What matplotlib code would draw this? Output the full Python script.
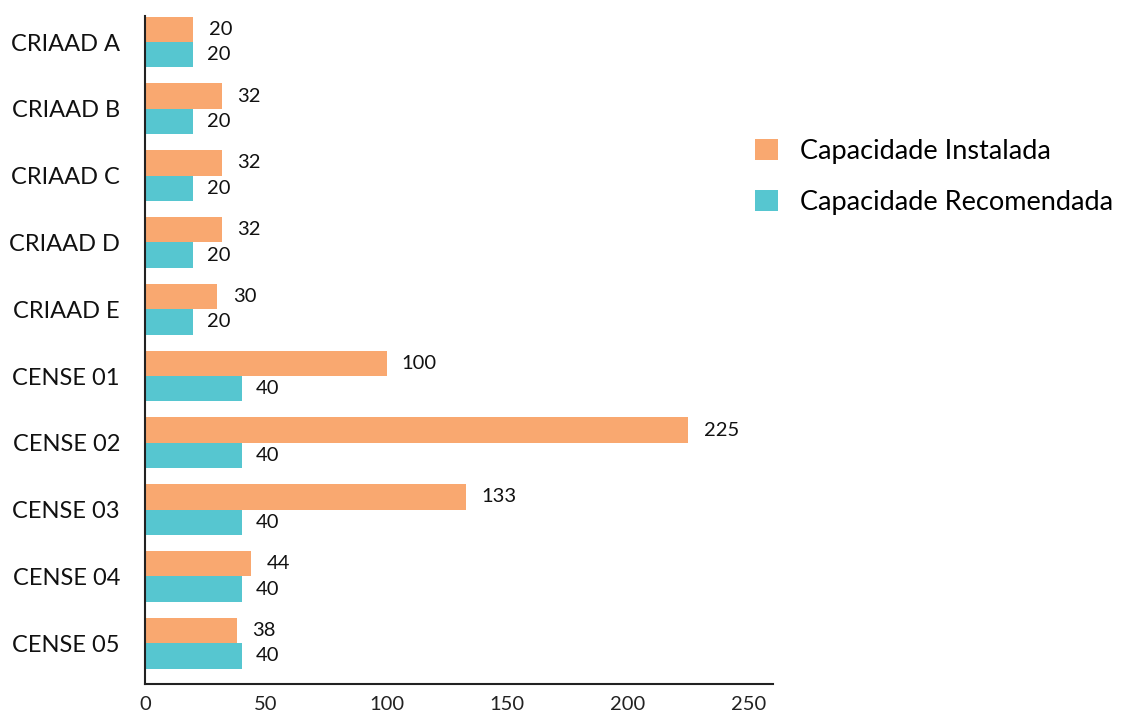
import numpy as np
import matplotlib.pyplot as plt

plt.rcParams['font.family'] = ['Lato', 'DejaVu Sans']

unidades = ['CRIAAD A', 'CRIAAD B', 'CRIAAD C', 'CRIAAD D', 'CRIAAD E',
            'CENSE 01', 'CENSE 02', 'CENSE 03', 'CENSE 04', 'CENSE 05']
instalada = [20, 32, 32, 32, 30, 100, 225, 133, 44, 38]
recomendada = [20, 20, 20, 20, 20, 40, 40, 40, 40, 40]

cor_inst = '#F9A870'
cor_rec = '#56C6D0'

fig = plt.figure(figsize=(11.21, 7.15), dpi=100)
ax = fig.add_axes([0.1293, 0.0434, 0.5603, 0.9342])

y = np.arange(len(unidades))
h = 0.38
b1 = ax.barh(y - h / 2, instalada, height=h, color=cor_inst, label='Capacidade Instalada')
b2 = ax.barh(y + h / 2, recomendada, height=h, color=cor_rec, label='Capacidade Recomendada')
ax.bar_label(b1, padding=11, fontsize=14.5, color='#111111')
ax.bar_label(b2, padding=10, fontsize=14.5, color='#111111')

ax.set_ylim(len(unidades) - 1 + 0.61, -0.39)
ax.set_xlim(0, 260)
ax.set_yticks(y)
ax.set_yticklabels(unidades, fontsize=17, color='#111111')
ax.set_xticks([0, 50, 100, 150, 200, 250])
ax.tick_params(axis='x', length=0, pad=9, labelsize=14.5, labelcolor='#222222')
ax.tick_params(axis='y', length=0, pad=18)

for s in ['top', 'right']:
    ax.spines[s].set_visible(False)
ax.spines['left'].set_color('#222222')
ax.spines['bottom'].set_color('#222222')
ax.spines['left'].set_linewidth(1.5)
ax.spines['bottom'].set_linewidth(1.5)

fig.legend(loc='upper left', bbox_to_anchor=(0.652, 0.84), frameon=False,
           fontsize=19.5, handlelength=0.85, handleheight=0.85, labelspacing=0.95,
           handletextpad=0.8)

fig.savefig('out.png', dpi=100)
